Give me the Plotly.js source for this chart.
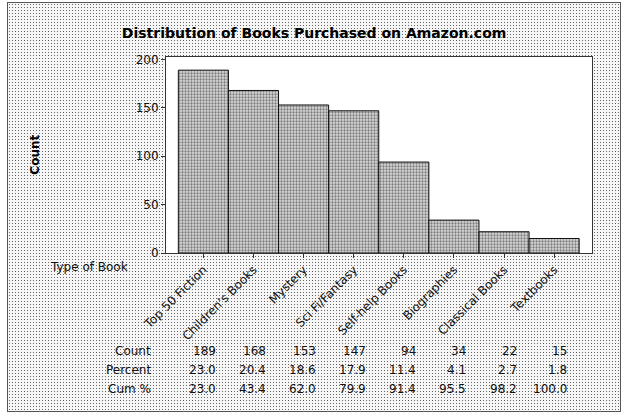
<!DOCTYPE html>
<html>
<head>
<meta charset="utf-8">
<script src="https://cdn.plot.ly/plotly-3.0.1.min.js"></script>
<style>
  html, body { margin: 0; padding: 0; background: #fff; }
  #frame {
    position: absolute; left: 7px; top: 2px; width: 614px; height: 410px;
    box-sizing: border-box; border: 1.5px solid #555;
    background-color: #f6f6f6;
    background-image: radial-gradient(circle, #666 0.65px, transparent 1px);
    background-size: 3px 3px;
  }
  #chart { position: absolute; left: 0; top: 0; width: 632px; height: 417px; }
</style>
</head>
<body>
<div id="frame"></div>
<div id="chart"></div>
<script>
var bookTypes = ['Top 50 Fiction', "Children's Books", 'Mystery', 'Sci Fi/Fantasy',
                 'Self-help Books', 'Biographies', 'Classical Books', 'Textbooks'];
var counts   = [189, 168, 153, 147, 94, 34, 22, 15];
var percents = ['23.0', '20.4', '18.6', '17.9', '11.4', '4.1', '2.7', '1.8'];
var cumPct   = ['23.0', '43.4', '62.0', '79.9', '91.4', '95.5', '98.2', '100.0'];
var rowNames = ['Count', 'Percent', 'Cum %'];
var yTicks   = [0, 50, 100, 150, 200];

// plot box in page pixels, used to place the text outside the axes
var box = { l: 165.5, r: 592, t: 56.5, b: 253.5 };
function px(x) { return (x - box.l) / (box.r - box.l); }
function py(y) { return (box.b - y) / (box.b - box.t); }

var font = { family: 'DejaVu Sans, Verdana, sans-serif', size: 12, color: '#111' };

var trace = {
    type: 'bar',
    x: bookTypes.map((b, i) => i),
    y: counts,
    width: 1,
    marker: {
        color: '#c4c4c4',
        line: { color: '#111', width: 1 },
        pattern: { shape: '.', fgcolor: '#7c7c7c', bgcolor: '#dadada', size: 3, solidity: 0.45 }
    },
    hoverinfo: 'skip'
};

var annotations = [
    { text: '<b>Count</b>', xref: 'paper', yref: 'paper', x: px(34), y: py(155), textangle: -90,
      showarrow: false, font: Object.assign({}, font, { color: '#000' }), xanchor: 'center', yanchor: 'middle' },
    { text: 'Type of Book', xref: 'paper', yref: 'paper', x: px(47), y: py(268),
      showarrow: false, font: font, xanchor: 'left', yanchor: 'middle' }
];

var rows = [counts.map(String), percents, cumPct];
var rowY = [352.5, 371.5, 390.5];
rows.forEach((vals, r) => {
    annotations.push({ text: rowNames[r], xref: 'paper', yref: 'paper', x: px(152), y: py(rowY[r]),
        showarrow: false, font: font, xanchor: 'right', yanchor: 'middle' });
    vals.forEach((v, i) => {
        annotations.push({ text: v, xref: 'x', yref: 'paper', x: i + 0.29, y: py(rowY[r]),
            showarrow: false, font: font, xanchor: 'right', yanchor: 'middle' });
    });
});

var layout = {
    width: 632, height: 417,
    margin: { l: box.l, r: 632 - box.r, t: box.t, b: 417 - box.b, pad: 0 },
    paper_bgcolor: 'rgba(0,0,0,0)',
    plot_bgcolor: '#fff',
    showlegend: false,
    bargap: 0,
    title: {
        text: '<b>Distribution of Books Purchased on Amazon.com</b>',
        font: { family: 'DejaVu Sans, Verdana, sans-serif', size: 14, color: '#000' },
        x: 0.497, xanchor: 'center', y: 1 - 33 / 417, yanchor: 'middle'
    },
    xaxis: {
        range: [-0.746, 7.756],
        tickmode: 'array', tickvals: bookTypes.map((b, i) => i), ticktext: bookTypes,
        tickangle: -45, ticks: 'outside', ticklen: 4, tickcolor: '#333',
        showline: true, linecolor: '#333', linewidth: 1, mirror: true,
        showgrid: false, zeroline: false, tickfont: font, fixedrange: true
    },
    yaxis: {
        range: [0, 202.6],
        tickmode: 'array', tickvals: yTicks,
        ticks: 'outside', ticklen: 4, tickcolor: '#333',
        showline: true, linecolor: '#333', linewidth: 1, mirror: true,
        showgrid: false, zeroline: false, tickfont: font, fixedrange: true
    },
    annotations: annotations
};

Plotly.newPlot('chart', [trace], layout, { staticPlot: true, displayModeBar: false });
</script>
</body>
</html>
